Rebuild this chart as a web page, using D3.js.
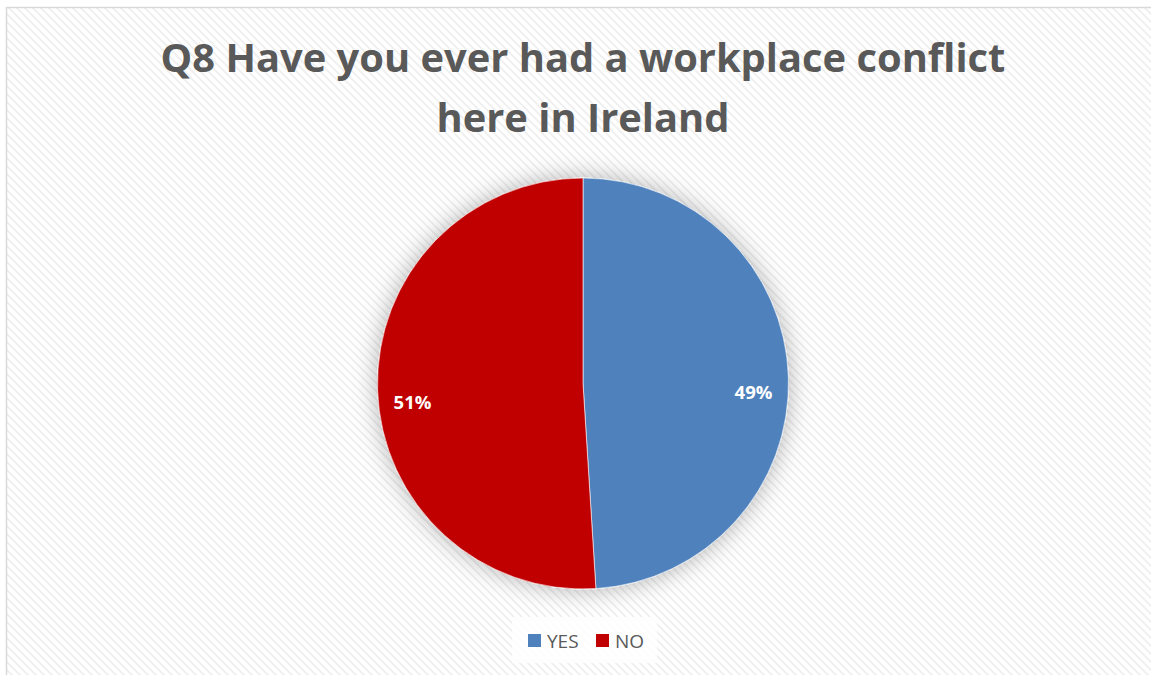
<!DOCTYPE html>
<html>
<head>
<meta charset="utf-8">
<script src="https://cdn.jsdelivr.net/npm/d3@7"></script>
<style>
  html, body { margin: 0; padding: 0; background: #ffffff; }
  svg { display: block; }
</style>
</head>
<body>
<svg id="chart" width="1151" height="675"></svg>
<script>
// Survey answers for Q8
const categories = ["YES", "NO"];
const values = [49, 51];
const sliceColors = ["#4f81bd", "#c00000"];
const titleLines = ["Q8 Have you ever had a workplace conflict", "here in Ireland"];

const W = 1151, H = 675;
const svg = d3.select("#chart");
const defs = svg.append("defs");

// Downward diagonal hatch used as the chart area fill
const tile = 8;
const hatch = defs.append("pattern")
  .attr("id", "hatch")
  .attr("patternUnits", "userSpaceOnUse")
  .attr("width", tile).attr("height", tile);
hatch.append("rect").attr("width", tile).attr("height", tile).attr("fill", "#ffffff");
for (let row = 0; row < tile; row++) {
  for (let k = 0; k < 3; k++) {
    hatch.append("rect")
      .attr("x", (row + k) % tile).attr("y", row)
      .attr("width", 1).attr("height", 1)
      .attr("fill", "#f1f1f1");
  }
}

// Soft glow under the pie
const glow = defs.append("filter")
  .attr("id", "glow")
  .attr("x", "-25%").attr("y", "-25%")
  .attr("width", "150%").attr("height", "150%");
glow.append("feDropShadow")
  .attr("dx", 0).attr("dy", 0)
  .attr("stdDeviation", 12)
  .attr("flood-color", "#000000")
  .attr("flood-opacity", 0.3);

// Chart area with its border
svg.append("rect")
  .attr("x", 6.5).attr("y", 7.5)
  .attr("width", 1154).attr("height", 690)
  .attr("fill", "url(#hatch)")
  .attr("stroke", "#d9d9d9")
  .attr("stroke-width", 1.5);

const cx = 583, cy = 383.5, r = 205.5;

// Title
const title = svg.append("text")
  .attr("text-anchor", "middle")
  .attr("fill", "#595959")
  .attr("font-family", "'Open Sans', sans-serif")
  .attr("font-weight", "bold")
  .attr("font-size", 40);
title.selectAll("tspan")
  .data(titleLines)
  .join("tspan")
  .attr("x", cx)
  .attr("y", (d, i) => 72 + i * 60)
  .text(d => d);
// Fit the first line to the intended width
const firstLen = title.select("tspan").node().getComputedTextLength();
title.attr("font-size", 40 * 845 / firstLen);

// Pie
const pie = d3.pie().sort(null).value(d => d.value);
const arcs = pie(categories.map((c, i) => ({ name: c, value: values[i], color: sliceColors[i] })));
const arc = d3.arc().innerRadius(0).outerRadius(r);
const labelArc = d3.arc().innerRadius(r * 0.83).outerRadius(r * 0.83);

const g = svg.append("g").attr("transform", `translate(${cx},${cy})`);
g.append("g").attr("filter", "url(#glow)")
  .selectAll("path")
  .data(arcs)
  .join("path")
  .attr("d", arc)
  .attr("fill", d => d.data.color)
  .attr("stroke", "#ffffff")
  .attr("stroke-width", 0.6);

g.selectAll("text.lbl")
  .data(arcs)
  .join("text")
  .attr("class", "lbl")
  .attr("transform", d => {
    const [x, y] = labelArc.centroid(d);
    return `translate(${x},${y + 14})`;
  })
  .attr("text-anchor", "middle")
  .attr("dy", "0.35em")
  .attr("fill", "#ffffff")
  .attr("font-family", "'Open Sans', sans-serif")
  .attr("font-weight", "bold")
  .attr("font-size", 18.5)
  .text(d => `${d.data.value}%`);

// Legend
const legend = svg.append("g").attr("transform", "translate(512,617)");
legend.append("rect")
  .attr("width", 145).attr("height", 46)
  .attr("fill", "#ffffff").attr("fill-opacity", 0.85);
const items = legend.selectAll("g.item")
  .data(categories)
  .join("g")
  .attr("class", "item")
  .attr("transform", (d, i) => `translate(${16 + i * 68},17)`);
items.append("rect")
  .attr("width", 13).attr("height", 13)
  .attr("fill", (d, i) => sliceColors[i]);
items.append("text")
  .attr("x", 19).attr("y", 14)
  .attr("fill", "#595959")
  .attr("font-family", "'Open Sans', sans-serif")
  .attr("font-size", 19)
  .text(d => d);
</script>
</body>
</html>
